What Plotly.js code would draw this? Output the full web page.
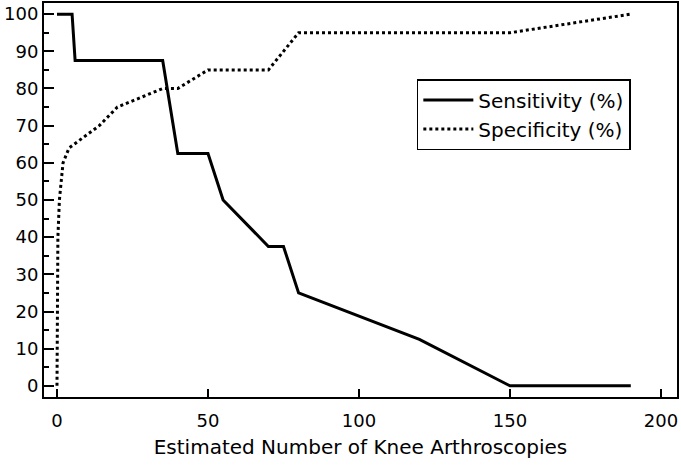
<!DOCTYPE html>
<html>
<head>
<meta charset="utf-8">
<script src="https://cdn.plot.ly/plotly-3.0.1.min.js"></script>
<style>
  html, body { margin: 0; padding: 0; background: #fff; }
  #chart { width: 681px; height: 466px; }
</style>
</head>
<body>
<div id="chart"></div>
<script>
// Sensitivity curve (solid)
const sensX = [0, 5, 6, 35, 40, 50, 55, 70, 75, 80, 120, 150, 190];
const sensY = [100, 100, 87.5, 87.5, 62.5, 62.5, 50, 37.5, 37.5, 25, 12.5, 0, 0];

// Specificity curve (dotted)
const specX = [0, 0.3, 0.8, 2, 4, 14, 20, 35, 40, 50, 70, 80, 150, 190];
const specY = [0, 40, 50, 60, 64, 70, 75, 80, 80, 85, 85, 95, 95, 100];

const xTicks = [0, 50, 100, 150, 200];
const yTicks = [0, 10, 20, 30, 40, 50, 60, 70, 80, 90, 100];

const font = 'DejaVu Sans, Arial, sans-serif';

const data = [
    {
        x: sensX,
        y: sensY,
        type: 'scatter',
        mode: 'lines',
        name: 'Sensitivity (%)',
        line: { color: '#000', width: 3, dash: 'solid' }
    },
    {
        x: specX,
        y: specY,
        type: 'scatter',
        mode: 'lines',
        name: 'Specificity (%)',
        line: { color: '#000', width: 3, dash: 'dot' }
    }
];

const layout = {
    width: 681,
    height: 466,
    paper_bgcolor: '#fff',
    plot_bgcolor: '#fff',
    margin: { l: 44, r: 4, t: 3, b: 69 },
    font: { family: font, size: 18, color: '#000' },
    showlegend: true,
    legend: {
        x: 0.589,
        y: 0.807,
        xanchor: 'left',
        yanchor: 'top',
        bordercolor: '#000',
        borderwidth: 1.5,
        bgcolor: '#fff',
        font: { family: font, size: 20, color: '#000' },
        tracegroupgap: 0,
        itemwidth: 50,
        entrywidth: 225
    },
    xaxis: {
        range: [-4.3, 205.3],
        tickvals: xTicks,
        ticks: 'inside',
        ticklen: 8,
        tickwidth: 2,
        tickcolor: '#000',
        ticklabelstandoff: 6,
        showline: true,
        linecolor: '#000',
        linewidth: 2,
        mirror: true,
        showgrid: false,
        zeroline: false,
        tickfont: { family: font, size: 18, color: '#000' },
        title: {
            text: 'Estimated Number of Knee Arthroscopies',
            font: { family: font, size: 20, color: '#000' },
            standoff: 10
        }
    },
    yaxis: {
        range: [-3, 103],
        tickvals: yTicks,
        ticks: 'inside',
        ticklen: 10,
        tickwidth: 2,
        tickcolor: '#000',
        minor: { dtick: 5, ticks: 'inside', ticklen: 5, tickwidth: 2, tickcolor: '#000', showgrid: false },
        showline: true,
        linecolor: '#000',
        linewidth: 2,
        mirror: true,
        showgrid: false,
        zeroline: false,
        tickfont: { family: font, size: 18, color: '#000' }
    }
};

Plotly.newPlot('chart', data, layout, { displayModeBar: false, staticPlot: true });
</script>
</body>
</html>
